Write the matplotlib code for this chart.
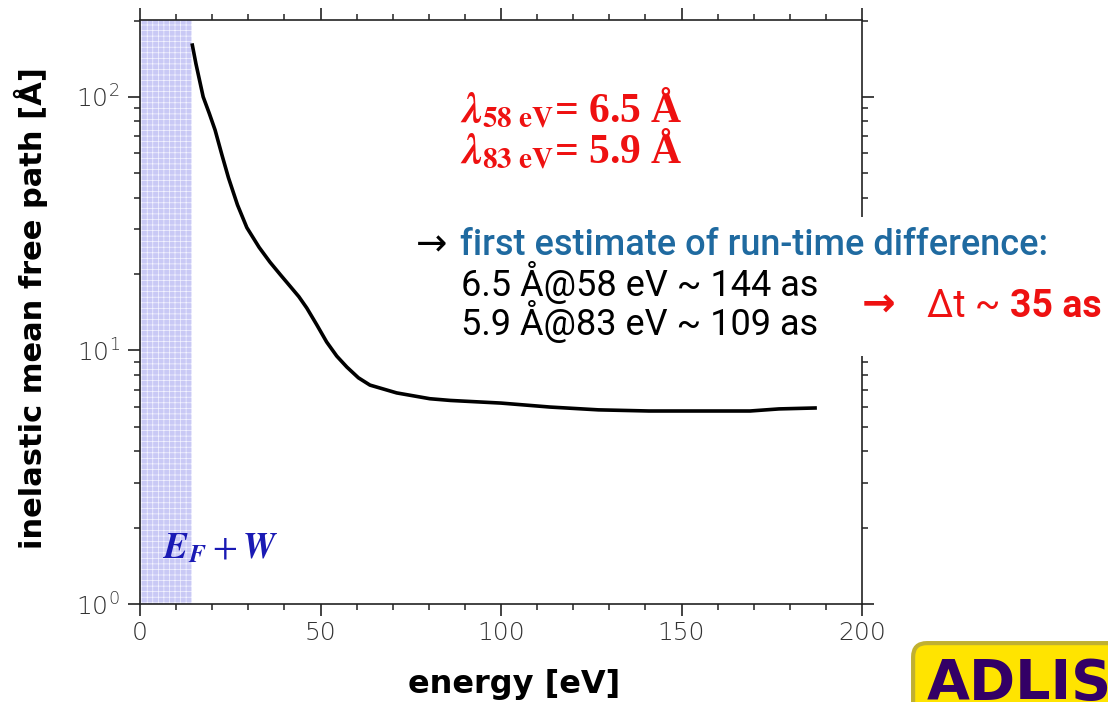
import matplotlib
matplotlib.use('Agg')
import matplotlib.pyplot as plt
from matplotlib.ticker import MultipleLocator, LogLocator, NullFormatter
from matplotlib.patches import Rectangle

plt.rcParams['mathtext.fontset'] = 'stix'
plt.rcParams['hatch.linewidth'] = 0.5

# inelastic mean free path
energy = [14.5, 15.5, 17.5, 19.2, 20.8, 22.7, 24.5, 27.0, 29.6, 33.0, 36.0, 39.0,
          41.6, 44.0, 46.2, 49.0, 51.7, 54.5, 57.3, 60.5, 63.7, 71.1, 80.3, 86,
          100, 113.6, 127, 141, 155, 169, 177, 187]
imfp = [160, 135, 100, 86, 74, 59, 48, 37.5, 30.5, 25.5, 22.3, 19.8,
        17.9, 16.3, 14.7, 12.6, 10.8, 9.5, 8.6, 7.8, 7.3, 6.8, 6.45, 6.35,
        6.2, 5.98, 5.83, 5.77, 5.77, 5.77, 5.88, 5.93]

shade_end = 14.5   # E_F + W
xticks = [0, 50, 100, 150, 200]

W, H = 1108, 702
fig = plt.figure(figsize=(W / 100, H / 100), dpi=100)
ax = fig.add_axes([140 / W, 1 - 604 / H, 722 / W, 584 / H])


def px(x, y):
    return x / W, 1 - y / H


ax.axvspan(0, shade_end, facecolor='#c9c9f5', edgecolor='#f4f4ff', hatch='+++', linewidth=0)
ax.plot(energy, imfp, color='black', lw=2.6, solid_joinstyle='round')

ax.set_yscale('log')
ax.set_xlim(0, 200)
ax.set_ylim(1, 201)
ax.set_xticks(xticks)
ax.xaxis.set_minor_locator(MultipleLocator(10))
ax.yaxis.set_minor_locator(LogLocator(base=10, subs=range(2, 10)))
ax.yaxis.set_minor_formatter(NullFormatter())

for s in ax.spines.values():
    s.set_linewidth(1.2)
    s.set_color('#222222')
ax.tick_params(which='both', direction='out', top=True, right=True, color='#222222')
ax.tick_params(which='major', length=8.5, width=1.2, labelsize=18, labelcolor='#333333')
ax.tick_params(which='minor', length=4.5, width=1.1)
ax.tick_params(axis='x', pad=4)
ax.tick_params(axis='y', pad=6)
for lab in ax.get_xticklabels() + ax.get_yticklabels():
    lab.set_fontweight('light')

fig.text(*px(514, 684), 'energy [eV]', fontsize=23, fontweight='bold',
         ha='center', va='center')
fig.text(*px(31, 308), 'inelastic mean free path [Å]', fontsize=22, fontweight='bold',
         rotation=90, ha='center', va='center')

ax.text(6.5, 1.66, r'$\mathbfit{E}_{\mathbfit{F}}+\mathbfit{W}$',
        color='#1a1ab4', fontsize=26, va='center', ha='left')

# white box hiding the right spine behind the note
fig.add_artist(Rectangle((415 / W, 1 - 356 / H), 1 - 415 / W, 139 / H,
                         transform=fig.transFigure, facecolor='white',
                         edgecolor='none', zorder=2))

red = '#ee1111'
serif = ['Liberation Serif', 'DejaVu Serif']
fig.text(*px(460, 122), r'$\mathbfit{\lambda}_{\mathbf{58\ eV}}$' + '= 6.5 Å',
         color=red, fontsize=30, fontweight='bold', family=serif,
         va='baseline', zorder=3)
fig.text(*px(460, 163), r'$\mathbfit{\lambda}_{\mathbf{83\ eV}}$' + '= 5.9 Å',
         color=red, fontsize=30, fontweight='bold', family=serif,
         va='baseline', zorder=3)

fam = ['Roboto', 'DejaVu Sans']
fig.text(*px(416, 255), '→', color='black', fontsize=27, family=fam, va='baseline', zorder=3)
fig.text(*px(460, 255), 'first estimate of run-time difference:', color='#1f6aa0',
         fontsize=26, fontweight='medium', family=fam, va='baseline', zorder=3)
fig.text(*px(461, 296), '6.5 Å@58 eV ~ 144 as', color='black', fontsize=26,
         family=fam, va='baseline', zorder=3)
fig.text(*px(461, 335), '5.9 Å@83 eV ~ 109 as', color='black', fontsize=26,
         family=fam, va='baseline', zorder=3)
fig.text(*px(862, 317), '→', color=red, fontsize=29, fontweight='bold', family=fam,
         va='baseline', zorder=3)
fig.text(*px(1000, 317), 'Δt ~', color=red, fontsize=27, family=fam,
         va='baseline', ha='right', zorder=3)
fig.text(*px(1102, 317), '35 as', color=red, fontsize=27, fontweight='bold',
         family=fam, va='baseline', ha='right', zorder=3)

# logo, cut by the figure edge
fig.text(*px(927, 699), 'ADLIS', color='#330066', fontsize=40, fontweight='bold',
         family='DejaVu Sans', va='baseline', zorder=3,
         bbox=dict(boxstyle='round,pad=0.25', facecolor='#ffe400',
                   edgecolor='#c0b030', linewidth=3))

fig.savefig('out.png', dpi=100)
